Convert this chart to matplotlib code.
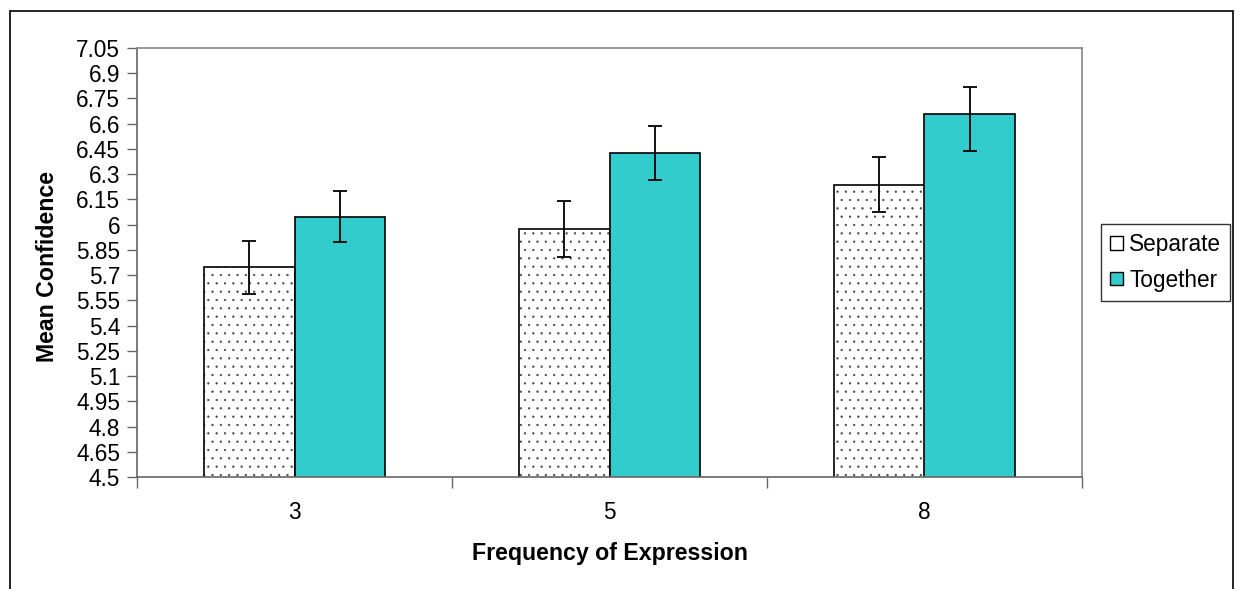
import numpy as np
import matplotlib
matplotlib.use('Agg')
import matplotlib.pyplot as plt
from matplotlib.patches import Rectangle, Patch

plt.rcParams['font.family'] = ['Liberation Sans', 'DejaVu Sans']
plt.rcParams['hatch.linewidth'] = 0.4

# values
freq = ['3', '5', '8']
separate = [5.746, 5.972, 6.233]
together = [6.043, 6.425, 6.659]
separate_err_lo = [0.159, 0.163, 0.160]
separate_err_hi = [0.158, 0.167, 0.168]
together_err_lo = [0.149, 0.159, 0.224]
together_err_hi = [0.156, 0.159, 0.159]

teal = '#33CCCC'
W, H = 1241, 589

fig = plt.figure(figsize=(W / 100, H / 100), dpi=100)
ax = fig.add_axes([137 / W, 112 / H, 945 / W, 429 / H])

x = np.arange(len(freq))
bw = 0.286
# dotted fill first (grey dots), then black outline on top
ax.bar(x - bw / 2, separate, bw, color='white', edgecolor='#444444',
       linewidth=0, hatch='..', zorder=2)
ax.bar(x - bw / 2, separate, bw, fill=False, edgecolor='black',
       linewidth=1.2, zorder=2)
ax.bar(x + bw / 2, together, bw, color=teal, edgecolor='black',
       linewidth=1.2, zorder=2)
ax.errorbar(x - bw / 2, separate, yerr=[separate_err_lo, separate_err_hi], fmt='none',
            ecolor='black', elinewidth=1.3, capsize=5, capthick=1.3, zorder=3)
ax.errorbar(x + bw / 2, together, yerr=[together_err_lo, together_err_hi], fmt='none',
            ecolor='black', elinewidth=1.3, capsize=5, capthick=1.3, zorder=3)

ax.set_xlim(-0.5, len(freq) - 0.5)
ax.set_ylim(4.5, 7.05)

yt = np.round(np.arange(4.5, 7.051, 0.15), 2)
ax.set_yticks(yt)
ax.set_yticklabels([f'{t:g}' for t in yt], fontsize=16.3)
ax.tick_params(axis='y', direction='out', length=7, width=1, color='#666666', pad=5)

ax.set_xticks(np.arange(-0.5, len(freq), 1.0))
ax.set_xticklabels([])
ax.set_xticks(x, minor=True)
ax.set_xticklabels(freq, minor=True, fontsize=16.3)
ax.tick_params(axis='x', which='major', direction='out', length=8, width=1, color='#666666')
ax.tick_params(axis='x', which='minor', length=0, pad=17.5)

for s in ['left', 'bottom']:
    ax.spines[s].set_color('#666666')
for s in ['top', 'right']:
    ax.spines[s].set_color('#888888')
for s in ax.spines.values():
    s.set_linewidth(1.2)

fig.text(609.5 / W, 1 - 560 / H, 'Frequency of Expression', ha='center', va='baseline',
         fontsize=16.7, fontweight='bold')
fig.text(48 / W, 1 - 266 / H, 'Mean Confidence', ha='center', va='center',
         rotation=90, fontsize=16.7, fontweight='bold')

handles = [Patch(facecolor='white', edgecolor='black', linewidth=1),
           Patch(facecolor=teal, edgecolor='black', linewidth=1)]
leg = fig.legend(handles, ['Separate', 'Together'], loc='upper left',
                 bbox_to_anchor=(1101 / W, 1 - 224 / H), fontsize=16.3,
                 fancybox=False, borderaxespad=0, handlelength=0.55, handleheight=0.55,
                 handletextpad=0.3, labelspacing=0.55, borderpad=0.4)
leg.get_frame().set_edgecolor('black')
leg.get_frame().set_linewidth(1)

fig.patches.append(Rectangle((10 / W, -0.1), 1223 / W, 1.1 - 11 / H,
                             transform=fig.transFigure, fill=False,
                             edgecolor='black', linewidth=1.2))

fig.savefig('out.png', dpi=100)
